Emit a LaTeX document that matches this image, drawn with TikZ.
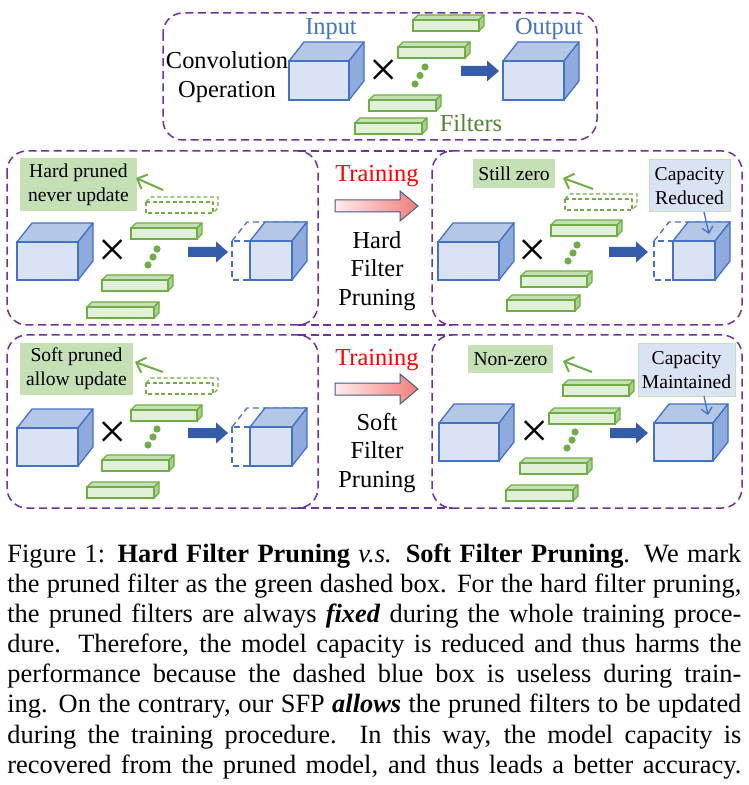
\documentclass[tikz,border=0pt]{standalone}
\usepackage{fontspec}
\setmainfont{Liberation Serif}
\usetikzlibrary{arrows.meta}
\definecolor{cfront}{RGB}{218,227,243}
\definecolor{ctop}{RGB}{180,199,231}
\definecolor{cside}{RGB}{143,170,220}
\definecolor{cedge}{RGB}{68,114,196}
\definecolor{bfront}{RGB}{226,240,217}
\definecolor{btop}{RGB}{197,224,180}
\definecolor{bside}{RGB}{169,209,142}
\definecolor{cgreen}{RGB}{112,173,71}
\definecolor{clabel}{RGB}{197,224,180}
\definecolor{cpurple}{RGB}{112,48,160}
\definecolor{carrowb}{RGB}{52,92,168}
\definecolor{cfilt}{RGB}{84,130,53}
\definecolor{cgl}{RGB}{253,236,236}
\definecolor{cgr}{RGB}{242,126,122}
\definecolor{cgo}{RGB}{70,90,140}
\newcommand{\mycube}[4]{%
  \fill[cfront] (#1,#2) rectangle ++(#3,#4);
  \filldraw[fill=ctop,draw=cedge,line width=0.65pt,line join=round] (#1,#2) -- ++(15,-19) -- ++(#3,0) -- ++(-15,19) -- cycle;
  \filldraw[fill=cside,draw=cedge,line width=0.65pt,line join=round] (#1+#3,#2) -- ++(15,-19) -- ++(0,#4) -- ++(-15,19) -- cycle;
  \draw[cedge,line width=0.65pt] (#1,#2) rectangle ++(#3,#4);
}
\newcommand{\mydcube}[4]{%
  \draw[cedge,line width=0.65pt,dash pattern=on 3pt off 2pt] (#1,#2) rectangle ++(#3,#4);
  \draw[cedge,line width=0.65pt,dash pattern=on 3pt off 2pt] (#1,#2) -- ++(15,-19) -- ++(#3,0);
}
\newcommand{\mybar}[3]{%
  \fill[bfront] (#1,#2) rectangle ++(#3,11);
  \filldraw[fill=btop,draw=cgreen,line width=0.6pt,line join=round] (#1,#2) -- ++(5,-5) -- ++(#3,0) -- ++(-5,5) -- cycle;
  \filldraw[fill=bside,draw=cgreen,line width=0.6pt,line join=round] (#1+#3,#2) -- ++(5,-5) -- ++(0,11) -- ++(-5,5) -- cycle;
  \draw[cgreen,line width=0.6pt] (#1,#2) rectangle ++(#3,11);
}
\newcommand{\mydbar}[3]{%
  \draw[cgreen,line width=0.6pt,dash pattern=on 2pt off 1.3pt,line join=round] (#1,#2) rectangle ++(#3,11);
  \draw[cgreen,line width=0.6pt,dash pattern=on 2pt off 1.3pt,line join=round] (#1,#2) -- ++(5,-5) -- ++(#3,0) -- ++(0,11) -- ++(-5,5);
}
\newcommand{\barrow}[3]{%
  \fill[carrowb] (#1,#3-5) -- (#2-12,#3-5) -- (#2-12,#3-10.5) -- (#2,#3) -- (#2-12,#3+10.5) -- (#2-12,#3+5) -- (#1,#3+5) -- cycle;
}
\newcommand{\gradarrow}[3]{%
  \shadedraw[left color=cgl,right color=cgr,draw=cgo,line width=0.5pt,line join=miter] (#1,#3-6) -- (#2-18,#3-6) -- (#2-18,#3-15) -- (#2,#3) -- (#2-18,#3+15) -- (#2-18,#3+6) -- (#1,#3+6) -- cycle;
}
\newcommand{\gdots}[6]{%
  \fill[cgreen] (#1,#2) circle (1.8pt);
  \fill[cgreen] (#3,#4) circle (1.8pt);
  \fill[cgreen] (#5,#6) circle (1.8pt);
}
\begin{document}
\begin{tikzpicture}[x=0.5pt,y=-0.5pt,
  txt/.style={inner sep=0pt,align=center},
  dbox/.style={draw=cpurple,line width=0.75pt,dash pattern=on 4pt off 2.3pt,rounded corners=10pt},
  dline/.style={draw=cpurple,line width=0.75pt,dash pattern=on 4pt off 2.3pt},
  garrow/.style={draw=cgreen,line width=1pt,-{Straight Barb[length=4pt,width=8pt]}},
  carrow/.style={draw=cedge,line width=0.65pt,-{Straight Barb[length=3pt,width=5.5pt]}},
  glabel/.style={fill=clabel,inner sep=0pt,align=center,font=\fontsize{9.8}{12.1}\selectfont},
  blabel/.style={fill=cfront,draw=clabel,line width=0.5pt,inner sep=0pt,align=center,font=\fontsize{9.8}{12.1}\selectfont},
  big/.style={font=\fontsize{12.2}{14.4}\selectfont},
  xmark/.style={inner sep=0pt,font=\fontsize{25}{25}\selectfont},
  captxt/.style={inner sep=0pt,anchor=base west,font=\fontsize{13.2}{15}\selectfont},
]
\useasboundingbox (0,0) rectangle (748,785);
\fill[white] (0,0) rectangle (748,785);

% ---------- top: convolution ----------
\draw[dbox] (163,13) rectangle (597,140);
\node[txt,big] (conv) at (227,77) {Convolution\\Operation};
\mycube{289}{61}{60}{39}
\node[txt,big,text=cedge,anchor=base] (inp) at (331,35) {Input};
\mycube{503}{61}{61}{39}
\node[txt,big,text=cedge,anchor=base] (outp) at (549,35) {Output};
\node[xmark] (x0) at (384,73) {×};
\mybar{413}{20}{66}
\mybar{398}{47}{67}
\gdots{425}{67}{420}{75.5}{415}{84}
\mybar{369}{100}{67}
\mybar{355}{123}{67}
\barrow{461}{499}{71}
\node[txt,big,text=cfilt,anchor=base] (filt) at (471,132) {Filters};

% ---------- row 2: hard ----------
\draw[dbox] (7,151) rectangle (318,325);
\draw[dbox] (432,151) rectangle (742,325);
\draw[dline] (298,151) -- (452,151);
\draw[dline] (298,325) -- (452,325);

\node[glabel,minimum width=58.5pt,minimum height=26.5pt] (hp) at (78.5,185) {Hard pruned\\never update};
\coordinate (hps) at (163,190);
\coordinate (hpe) at (136,178);
\draw[garrow] (hps) -- (hpe);
\mydbar{146}{202}{67}
\mycube{17}{242}{61}{38}
\node[xmark] (x1) at (113,253) {×};
\mybar{131}{228}{66}
\gdots{157}{249}{153}{257}{148}{265}
\mybar{102}{280}{66}
\mybar{87}{307}{67}
\barrow{188}{228}{252}
\mydcube{232}{241}{60}{39}
\mycube{250}{241}{42}{39}

\node[txt,big,text=red,anchor=base] (tr1) at (377,182) {Training};
\gradarrow{335}{418}{206}
\node[txt,big] (hfp) at (377,271) {Hard\\Filter\\Pruning};

\node[glabel,minimum width=41pt,minimum height=14.5pt] (sz) at (514,173.5) {Still zero};
\coordinate (szs) at (593,189);
\coordinate (sze) at (563,178);
\draw[garrow] (szs) -- (sze);
\mydbar{565}{199}{67}
\mycube{438}{242}{61}{38}
\node[xmark] (x2) at (533,253) {×};
\mybar{551}{225}{66}
\gdots{577}{245}{573}{253}{568}{261}
\mybar{521}{276}{66}
\mybar{507}{300}{68}
\barrow{609}{648}{252}
\mydcube{654}{241}{61}{39}
\mycube{673}{241}{42}{39}
\node[blabel,minimum width=40.5pt,minimum height=26pt] (cr) at (689.5,186) {Capacity\\Reduced};
\coordinate (crs) at (704,212);
\coordinate (cre) at (709,234);
\draw[carrow] (crs) -- (cre);

% ---------- row 3: soft ----------
\draw[dbox] (7,335) rectangle (318,508);
\draw[dbox] (432,335) rectangle (742,508);
\draw[dline] (298,335) -- (452,335);
\draw[dline] (298,508) -- (452,508);

\node[glabel,minimum width=56.5pt,minimum height=26pt] (sp) at (76.5,369) {Soft pruned\\allow update};
\coordinate (sps) at (163,372);
\coordinate (spe) at (135,362);
\draw[garrow] (sps) -- (spe);
\mydbar{146}{383}{67}
\mycube{17}{428}{61}{38}
\node[xmark] (x3) at (113,435) {×};
\mybar{131}{410}{66}
\gdots{157}{429}{153}{437}{148}{445}
\mybar{102}{460}{67}
\mybar{87}{487}{67}
\barrow{188}{228}{433}
\mydcube{232}{427}{60}{39}
\mycube{250}{427}{42}{39}

\node[txt,big,text=red,anchor=base] (tr2) at (377,365) {Training};
\gradarrow{335}{418}{389}
\node[txt,big] (sfp) at (377,453) {Soft\\Filter\\Pruning};

\node[glabel,minimum width=42.5pt,minimum height=14pt] (nz) at (510.5,359) {Non-zero};
\coordinate (nzs) at (592,372);
\coordinate (nze) at (563,361);
\draw[garrow] (nzs) -- (nze);
\mybar{563}{385}{66}
\mybar{549}{413}{66}
\gdots{575}{432}{572}{440}{567}{448}
\mybar{520}{463}{67}
\mybar{506}{490}{67}
\node[xmark] (x4) at (535,434) {×};
\mycube{439}{423}{60}{38}
\barrow{610}{648}{433}
\mycube{654}{423}{59}{38}
\node[blabel,minimum width=48.5pt,minimum height=26pt] (cm) at (686.5,370) {Capacity\\Maintained};
\coordinate (cms) at (704,396);
\coordinate (cme) at (708,415);
\draw[carrow] (cms) -- (cme);

% ---------- caption ----------
\node[captxt] (c1) at (7,562) {\makebox[367pt][s]{Figure 1: \textbf{Hard Filter Pruning} \textit{v.s.} \textbf{Soft Filter Pruning}. We mark}};
\node[captxt] (c2) at (7,592) {\makebox[367pt][s]{the pruned filter as the green dashed box. For the hard filter pruning,}};
\node[captxt] (c3) at (7,622) {\makebox[367pt][s]{the pruned filters are always \textbf{\textit{fixed}} during the whole training proce-}};
\node[captxt] (c4) at (7,652) {\makebox[367pt][s]{dure. Therefore, the model capacity is reduced and thus harms the}};
\node[captxt] (c5) at (7,682) {\makebox[367pt][s]{performance because the dashed blue box is useless during train-}};
\node[captxt] (c6) at (7,712) {\makebox[367pt][s]{ing. On the contrary, our SFP \textbf{\textit{allows}} the pruned filters to be updated}};
\node[captxt] (c7) at (7,743) {\makebox[367pt][s]{during the training procedure. In this way, the model capacity is}};
\node[captxt] (c8) at (7,773) {\makebox[367pt][s]{recovered from the pruned model, and thus leads a better accuracy.}};
\end{tikzpicture}
\end{document}
